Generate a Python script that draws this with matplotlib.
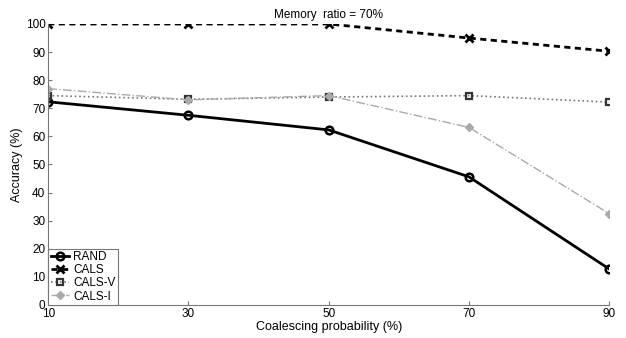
import matplotlib
matplotlib.use("Agg")
import matplotlib.pyplot as plt

plt.rcParams["font.family"] = ["Liberation Sans", "DejaVu Sans"]
plt.rcParams["font.size"] = 8.5

prob = [10, 30, 50, 70, 90]
rand = [72.3, 67.5, 62.3, 45.6, 12.8]
cals = [100, 100, 100, 95.0, 90.3]
cals_v = [74.5, 73.2, 74.0, 74.5, 72.2]
cals_i = [77.0, 73.0, 74.5, 63.2, 32.5]

fig = plt.figure(figsize=(6.26, 3.38), dpi=100)
ax = fig.add_axes([0.077, 0.098, 0.896, 0.831])

ax.plot(prob, rand, color="black", lw=2, marker="o", ms=5.5, mfc="none", mew=1.8, label="RAND")
ax.plot(prob, cals, color="black", lw=2, ls=(0, (2.2, 1.6)), marker="x", ms=5.5, mew=2,
        label="CALS")
ax.plot(prob, cals_v, color="#777777", lw=1.2, ls=":", marker="s", ms=4.5, mfc="none",
        mec="#333333", mew=1.6, label="CALS-V")
ax.plot(prob, cals_i, color="#aaaaaa", lw=1, ls="-.", marker="D", ms=4.5, mfc="#aaaaaa",
        mec="#aaaaaa", label="CALS-I")

ax.set_xlim(10, 90)
ax.set_ylim(0, 100)
ax.set_xticks(prob)
ax.set_yticks(range(0, 101, 10))
ax.tick_params(direction="in", length=3, color="#777777", pad=2)
for side in ["top", "right"]:
    ax.spines[side].set_visible(False)
for side in ["left", "bottom"]:
    ax.spines[side].set_color("#777777")

ax.set_xlabel("Coalescing probability (%)", fontsize=9, labelpad=1)
ax.set_ylabel("Accuracy (%)", fontsize=9, labelpad=2)
ax.set_title("Memory  ratio = 70%", fontsize=8.5, pad=4)

leg = ax.legend(loc="lower left", handlelength=1.6, handletextpad=0.3, borderpad=0.2,
                labelspacing=0.1, borderaxespad=0, fancybox=False, framealpha=1)
leg.get_frame().set_edgecolor("#777777")
leg.get_frame().set_linewidth(0.8)

fig.savefig("out.png", dpi=100)
